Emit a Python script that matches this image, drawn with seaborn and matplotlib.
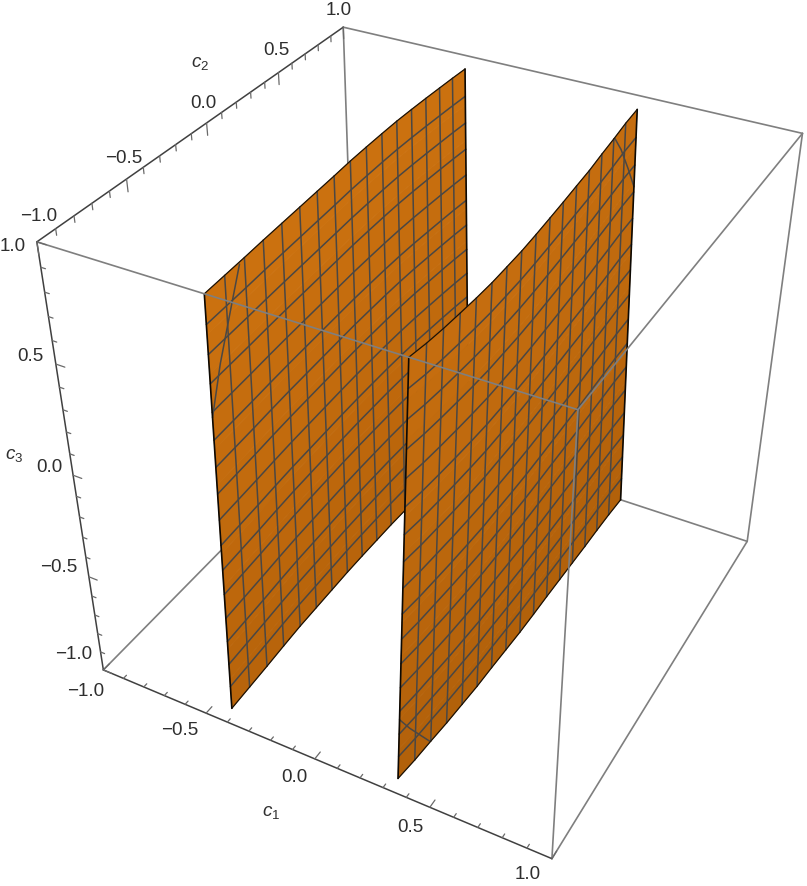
import numpy as np
import pandas as pd
import matplotlib
matplotlib.use("Agg")
import matplotlib.pyplot as plt
import seaborn as sns
from matplotlib.collections import PolyCollection

# --- data ---
# c2 positions of the mesh columns (the two ends are the sheet borders)
c2_knots = [-1, -0.875, -0.75, -0.625, -0.5, -0.375, -0.25, -0.125, 0, 0.125, 0.25, 0.375, 0.5, 0.625, 0.75, 0.875, 1]
# position of the slanted mesh lines between the bottom (-1) and top (1) border of a column
mesh_levels = [-0.875, -0.75, -0.625, -0.5, -0.375, -0.25, -0.125, 0, 0.125, 0.25, 0.375, 0.5, 0.625, 0.75, 0.875]

# left sheet: c1 along the top border, its fall per unit c3, and the c3 range of each column
left_top_c1 = [-0.32, -0.326, -0.332, -0.339, -0.345, -0.351, -0.357, -0.363, -0.37, -0.376, -0.382, -0.389, -0.395, -0.401, -0.408, -0.417, -0.426]
left_slope = [0.027, 0.024, 0.021, 0.018, 0.015, 0.012, 0.009, 0.006, 0.003, 0.0, -0.003, -0.006, -0.009, -0.012, -0.015, -0.018, -0.02]
left_top_c3 = [1.0, 1.0, 1.0, 1.0, 1.0, 1.0, 1.0, 1.0, 1.0, 0.998, 0.995, 0.99, 0.983, 0.975, 0.965, 0.953, 0.94]
left_bot_c3 = [-0.91, -0.905, -0.9, -0.895, -0.89, -0.89, -0.89, -0.89, -0.895, -0.9, -0.905, -0.915, -0.925, -0.94, -0.955, -0.975, -1.0]

# right sheet
right_top_c1 = [0.433, 0.427, 0.42, 0.414, 0.408, 0.402, 0.395, 0.389, 0.383, 0.377, 0.37, 0.364, 0.358, 0.352, 0.345, 0.339, 0.333]
right_slope = [0.035, 0.031, 0.027, 0.023, 0.019, 0.015, 0.011, 0.007, 0.003, -0.001, -0.005, -0.009, -0.013, -0.017, -0.021, -0.025, -0.03]
right_top_c3 = [1.0, 0.976, 0.956, 0.941, 0.927, 0.916, 0.909, 0.904, 0.904, 0.906, 0.907, 0.911, 0.914, 0.923, 0.928, 0.937, 0.94]
right_bot_c3 = [-0.915, -0.935, -0.95, -0.965, -0.975, -0.985, -0.99, -0.995, -1.0, -1.0, -1.0, -1.0, -1.0, -1.0, -1.0, -1.0, -1.0]

# the short c1 contour lines cutting the sheet corners: (c2, c3)
left_cut = ([-0.78, -0.85, -0.93, -1.0], [0.99, 0.86, 0.68, 0.5])
right_cut_top = ([0.76, 0.84, 0.92, 1.0], [0.925, 0.84, 0.72, 0.6])
right_cut_bot = ([-1.0, -0.92, -0.84, -0.76], [-0.6, -0.72, -0.83, -0.94])

tick_major = [-1.0, -0.5, 0.0, 0.5, 1.0]
tick_minor = [-0.9, -0.8, -0.7, -0.6, -0.4, -0.3, -0.2, -0.1, 0.1, 0.2, 0.3, 0.4, 0.6, 0.7, 0.8, 0.9]
tick_labels = ["\u22121.0", "\u22120.5", "0.0", "0.5", "1.0"]

# --- styles ---
CAMERA = np.array([[201.644732, 168.556673, -37.671802, 439.769068],
                   [49.510964, -89.95612, -242.970435, 412.737807],
                   [-0.056305, 0.104718, -0.086019, 1.0]])
LABEL_OFFSETS = {
    "c1": [(-18, 21), (-26, 16), (-20, 18), (-19, 19), (-24, 15)],
    "c2": [(2, -26), (-3, -22), (-3, -20), (-2, -23), (-5, -18)],
    "c3": [(-30, -16), (-30, -10), (-24, -9), (-25, -9), (-24, 4)],
}
TOP_COLOR = np.array([0.79, 0.44, 0.06])
BOTTOM_COLOR = np.array([0.71, 0.385, 0.04])
MESH = "#4a4744"
BOX = "#7f7f7f"
AXIS = "#404040"
TEXT = "#2e2e2e"

sns.set_style("white")
plt.rcParams["font.family"] = ["Liberation Sans", "DejaVu Sans"]
plt.rcParams["mathtext.fontset"] = "custom"
plt.rcParams["mathtext.it"] = "Liberation Sans:italic"
plt.rcParams["mathtext.rm"] = "Liberation Sans"

fig = plt.figure(figsize=(8.07, 8.87), dpi=100)
ax = fig.add_axes([0, 0, 1, 1])


def project(c1, c2, c3):
    pts = np.column_stack([c1, c2, c3, np.ones(len(c1))])
    h = pts @ CAMERA.T
    return h[:, 0] / h[:, 2], h[:, 1] / h[:, 2]


def draw_lines(lines, color, lw, z):
    # lines is a list of (c1, c2, c3) lists, one entry per polyline
    frames = []
    for i, (c1, c2, c3) in enumerate(lines):
        x, y = project(np.asarray(c1, float), np.asarray(c2, float), np.asarray(c3, float))
        frames.append(pd.DataFrame({"x": x, "y": y, "line": i}))
    df = pd.concat(frames, ignore_index=True)
    sns.lineplot(data=df, x="x", y="y", units="line", estimator=None, sort=False,
                 color=color, linewidth=lw, zorder=z, ax=ax, legend=False)


def sheet_c1(top_c1, slope, j, c3):
    return top_c1[j] + slope[j] * (c3 - 1)


def draw_sheet(top_c1, slope, top_c3, bot_c3, cuts, z, dim=1.0):
    n = len(c2_knots)
    # filled surface, darker towards the bottom
    polys, colors = [], []
    steps = np.linspace(0, 1, 13)
    for j in range(n - 1):
        for a, b in zip(steps[:-1], steps[1:]):
            pts = []
            for jj, t in [(j, a), (j + 1, a), (j + 1, b), (j, b)]:
                c3 = bot_c3[jj] + (top_c3[jj] - bot_c3[jj]) * t
                pts.append((sheet_c1(top_c1, slope, jj, c3), c2_knots[jj], c3))
            pts = np.array(pts)
            x, y = project(pts[:, 0], pts[:, 1], pts[:, 2])
            polys.append(np.column_stack([x, y]))
            colors.append((BOTTOM_COLOR + (TOP_COLOR - BOTTOM_COLOR) * (a + b) / 2) * dim)
    ax.add_collection(PolyCollection(polys, facecolors=colors, edgecolors=colors, linewidths=0.5, zorder=z))

    # mesh lines
    mesh = []
    for j in range(1, n - 1):
        mesh.append(([sheet_c1(top_c1, slope, j, bot_c3[j]), sheet_c1(top_c1, slope, j, top_c3[j])],
                     [c2_knots[j]] * 2, [bot_c3[j], top_c3[j]]))
    for level in mesh_levels:
        c3_line = [bot_c3[j] + (top_c3[j] - bot_c3[j]) * (level + 1) / 2 for j in range(n)]
        mesh.append(([sheet_c1(top_c1, slope, j, c3_line[j]) for j in range(n)], c2_knots, c3_line))
    for cut_c2, cut_c3 in cuts:
        c1 = []
        for c2, c3 in zip(cut_c2, cut_c3):
            j = int(np.argmin(np.abs(np.array(c2_knots) - c2)))
            c1.append(sheet_c1(top_c1, slope, j, c3))
        mesh.append((c1, cut_c2, cut_c3))
    draw_lines(mesh, MESH, 1.1, z + 0.1)

    # black border
    c3_top = list(top_c3)
    c3_bot = list(bot_c3)
    edge_top = ([sheet_c1(top_c1, slope, j, c3_top[j]) for j in range(n)], c2_knots, c3_top)
    edge_bot = ([sheet_c1(top_c1, slope, j, c3_bot[j]) for j in range(n)], c2_knots, c3_bot)
    edge_l = ([edge_bot[0][0], edge_top[0][0]], [c2_knots[0]] * 2, [c3_bot[0], c3_top[0]])
    edge_r = ([edge_bot[0][-1], edge_top[0][-1]], [c2_knots[-1]] * 2, [c3_bot[-1], c3_top[-1]])
    draw_lines([edge_top, edge_bot], "#1a1208", 0.9, z + 0.2)
    draw_lines([edge_l, edge_r], "#0d0904", 1.2, z + 0.2)


# box edges behind the sheets
draw_lines([([-1, -1], [1, 1], [1, -1]),
            ([-1, -1], [-1, 1], [-1, -1]),
            ([-1, 1], [1, 1], [-1, -1]),
            ([-1, 1], [1, 1], [1, 1]),
            ([1, 1], [1, 1], [1, -1]),
            ([1, 1], [-1, 1], [-1, -1])], BOX, 1.2, 1)

draw_sheet(left_top_c1, left_slope, left_top_c3, left_bot_c3, [left_cut], 2, dim=1.01)
draw_sheet(right_top_c1, right_slope, right_top_c3, right_bot_c3, [right_cut_top, right_cut_bot], 3, dim=0.98)

# box edges in front of the sheets
draw_lines([([-1, 1], [-1, -1], [1, 1]),
            ([1, 1], [-1, 1], [1, 1]),
            ([1, 1], [-1, -1], [1, -1])], BOX, 1.2, 4)

# the three axes with their ticks
draw_lines([([-1, 1], [-1, -1], [-1, -1]),
            ([-1, -1], [-1, 1], [1, 1]),
            ([-1, -1], [-1, -1], [1, -1])], AXIS, 1.1, 5)
ticks = []
for values, size in [(tick_major, 0.04), (tick_minor, 0.02)]:
    for v in values:
        ticks.append(([v, v], [-1, -1 + size], [-1, -1]))
        ticks.append(([-1, -1], [v, v], [1, 1 - size * 1.3]))
        ticks.append(([-1, -1 + size], [-1, -1], [v, v]))
draw_lines(ticks, "#6a6a6a", 0.9, 5)

# tick labels
for i, (v, label) in enumerate(zip(tick_major, tick_labels)):
    for name, pos in [("c1", (v, -1, -1)), ("c2", (-1, v, 1)), ("c3", (-1, -1, v))]:
        x, y = project(*[np.array([p], float) for p in pos])
        dx, dy = LABEL_OFFSETS[name][i]
        ax.text(x[0] + dx, y[0] + dy, label, fontsize=13.6, color=TEXT, ha="center", va="center", zorder=6)

# axis labels, placed from the middle of each axis
for text, pos, off in [(r"$c_1$", (0, -1, -1), (-44, 53)),
                       (r"$c_2$", (-1, 0, 1), (-7, -60)),
                       (r"$c_3$", (-1, -1, 0), (-59, -21))]:
    x, y = project(*[np.array([p], float) for p in pos])
    ax.text(x[0] + off[0], y[0] + off[1], text, fontsize=13.6, color=TEXT, ha="center", va="center", zorder=6)

ax.set_xlim(0, 807)
ax.set_ylim(887, 0)
ax.axis("off")
fig.savefig("out.png", dpi=100, facecolor="white")
